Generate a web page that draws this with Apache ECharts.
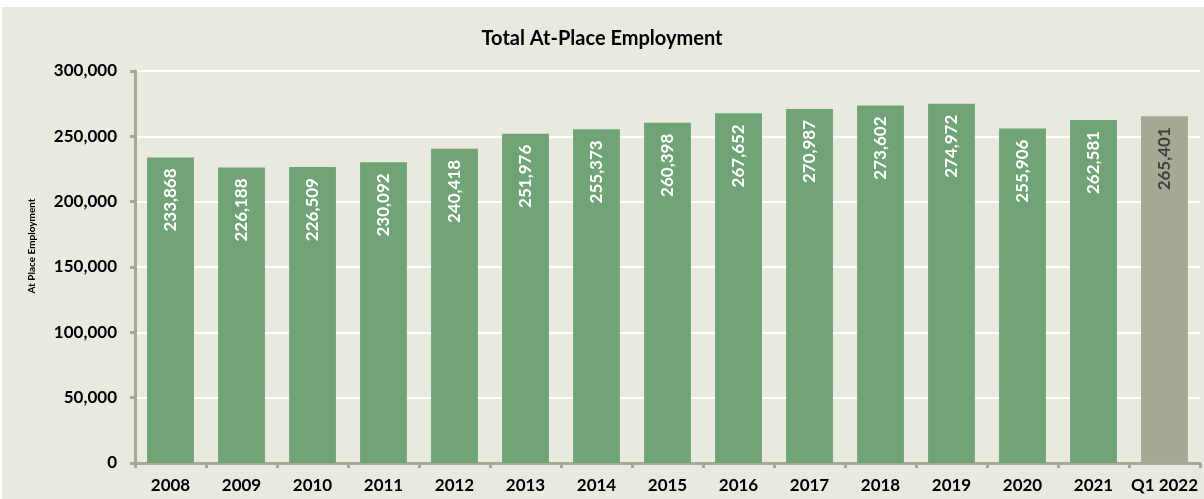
<!DOCTYPE html>
<html>
<head>
<meta charset="utf-8">
<script src="https://cdn.jsdelivr.net/npm/echarts@6/dist/echarts.min.js"></script>
<style>
  html, body { margin: 0; padding: 0; background: #ffffff; }
  #wrap { position: relative; width: 1204px; height: 499px; overflow: hidden; }
  #panel { position: absolute; left: 2px; top: 7px; right: 0; bottom: 0; background: #EAE9DF; }
  #chart { position: absolute; left: 0; top: 0; width: 1204px; height: 499px; }
</style>
</head>
<body>
<div id="wrap">
  <div id="panel"></div>
  <div id="chart"></div>
</div>
<script>
const categories = ['2008', '2009', '2010', '2011', '2012', '2013', '2014', '2015',
    '2016', '2017', '2018', '2019', '2020', '2021', 'Q1 2022'];
const employment = [233868, 226188, 226509, 230092, 240418, 251976, 255373, 260398,
    267652, 270987, 273602, 274972, 255906, 262581, 265401];
const yTicks = [0, 50000, 100000, 150000, 200000, 250000, 300000];

const green = '#70A376';
const grey = '#A6A893';
const axisColor = '#A8A995';
const fontFamily = 'Lato, "Open Sans", sans-serif';

const fmt = v => v.toLocaleString('en-US');

const chart = echarts.init(document.getElementById('chart'));

const barData = employment.map((v, i) => {
    const last = i === employment.length - 1;
    return {
        value: v,
        itemStyle: { color: last ? grey : green },
        label: { color: last ? '#404040' : '#ffffff' }
    };
});

const option = {
    animation: false,
    backgroundColor: 'transparent',
    textStyle: { fontFamily: fontFamily },
    title: {
        text: 'Total At-Place Employment',
        left: 'center',
        top: 24,
        textStyle: { fontSize: 20, fontWeight: 'bold', color: '#000', fontFamily: fontFamily }
    },
    grid: {
        left: 135,
        right: 4,
        top: 71,
        bottom: 36,
        containLabel: false
    },
    xAxis: {
        type: 'category',
        data: categories,
        boundaryGap: true,
        axisLine: { show: true, lineStyle: { color: axisColor, width: 3 } },
        axisTick: { show: true, alignWithLabel: false, length: 5, lineStyle: { color: axisColor, width: 3 } },
        axisLabel: { color: '#000', fontSize: 17, fontWeight: 'bold', margin: 14, interval: 0 }
    },
    yAxis: {
        type: 'value',
        min: yTicks[0],
        max: yTicks[yTicks.length - 1],
        interval: yTicks[1] - yTicks[0],
        name: 'At Place Employment',
        nameLocation: 'middle',
        nameGap: 98,
        nameRotate: 90,
        nameTextStyle: { fontSize: 10, fontWeight: 'bold', color: '#000', padding: [0, 0, 0, 42] },
        axisLine: { show: true, lineStyle: { color: axisColor, width: 3 } },
        axisTick: { show: true, length: 5, lineStyle: { color: axisColor, width: 3 } },
        axisLabel: { color: '#000', fontSize: 17, fontWeight: 'bold', margin: 18, formatter: fmt },
        splitLine: { show: true, lineStyle: { color: '#ffffff', width: 2 } }
    },
    series: [{
        type: 'bar',
        data: barData,
        barWidth: '66%',
        label: {
            show: true,
            position: 'insideTop',
            rotate: 90,
            align: 'right',
            verticalAlign: 'middle',
            distance: 11,
            fontSize: 17,
            fontWeight: 'bold',
            fontFamily: fontFamily,
            formatter: p => fmt(p.value)
        }
    }]
};

chart.setOption(option);
</script>
</body>
</html>
